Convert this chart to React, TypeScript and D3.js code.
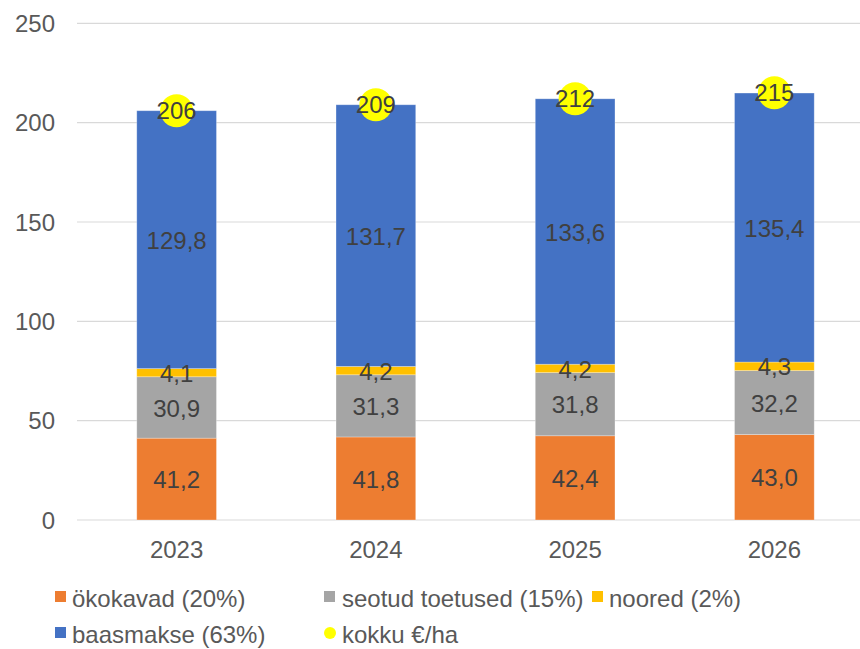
import React from "react";
import * as d3 from "d3";

const years = ["2023", "2024", "2025", "2026"];
const okokavad = [41.2, 41.8, 42.4, 43.0];
const seotud = [30.9, 31.3, 31.8, 32.2];
const noored = [4.1, 4.2, 4.2, 4.3];
const baasmakse = [129.8, 131.7, 133.6, 135.4];
const kokku = [206, 209, 212, 215];
const yTicks = [0, 50, 100, 150, 200, 250];

const seriesNames = ["ökokavad (20%)", "seotud toetused (15%)", "noored (2%)", "baasmakse (63%)"];
const seriesColors = ["#ED7D31", "#A5A5A5", "#FFC000", "#4472C4"];
const totalName = "kokku €/ha";

const W = 860;
const H = 649;
const FONT = "'Liberation Sans', Arial, sans-serif";
const FS = 24;

export default function App() {
  const x = d3.scaleBand<string>().domain(years).range([77, 874]).paddingInner(0.6).paddingOuter(0.3);
  const y = d3.scaleLinear().domain([0, 250]).range([520, 23.3]);
  const seriesVals = [okokavad, seotud, noored, baasmakse];
  const rows = years.map((yr, i) => ({ year: yr, s0: okokavad[i], s1: seotud[i], s2: noored[i], s3: baasmakse[i] }));
  const stack = d3.stack<any>().keys(["s0", "s1", "s2", "s3"]);
  const stacked = stack(rows);
  const fmt = (v: number) => v.toFixed(1).replace(".", ",");

  const legendItems = [
    { label: seriesNames[0], color: seriesColors[0], mx: 55, tx: 72, ty: 607, type: "rect" },
    { label: seriesNames[1], color: seriesColors[1], mx: 324, tx: 342, ty: 607, type: "rect" },
    { label: seriesNames[2], color: seriesColors[2], mx: 592, tx: 609, ty: 607, type: "rect" },
    { label: seriesNames[3], color: seriesColors[3], mx: 55, tx: 72, ty: 643, type: "rect" },
    { label: totalName, color: "#FFFF00", mx: 324, tx: 342, ty: 643, type: "circle" },
  ];

  return (
    <svg width={W} height={H} style={{ position: "absolute", left: 0, top: 0, background: "#fff" }} fontFamily={FONT}>
      {yTicks.map((t) => (
        <g key={t}>
          <line x1={77} x2={860} y1={y(t)} y2={y(t)} stroke="#d9d9d9" strokeWidth={1.2} />
          <text x={55} y={y(t)} dy="0.36em" textAnchor="end" fontSize={FS} fill="#595959">{t}</text>
        </g>
      ))}
      {stacked.map((layer, si) => (
        <g key={si}>
          {layer.map((d, i) => (
            <rect key={i} x={x(years[i])!} width={x.bandwidth()} y={y(d[1])} height={y(d[0]) - y(d[1])}
              fill={seriesColors[si]} stroke="#ffffff" strokeOpacity={0.35} strokeWidth={0.8} />
          ))}
        </g>
      ))}
      {stacked.map((layer, si) => (
        <g key={"l" + si}>
          {layer.map((d, i) => (
            <text key={i} x={x(years[i])! + x.bandwidth() / 2} y={(y(d[0]) + y(d[1])) / 2} dy="0.38em"
              textAnchor="middle" fontSize={FS} fill="#404040">{fmt(seriesVals[si][i])}</text>
          ))}
        </g>
      ))}
      {kokku.map((v, i) => (
        <g key={"k" + i}>
          <circle cx={x(years[i])! + x.bandwidth() / 2} cy={y(v)} r={16.5} fill="#FFFF00" />
          <text x={x(years[i])! + x.bandwidth() / 2} y={y(v)} dy="0.36em" textAnchor="middle" fontSize={FS} fill="#404040">{v}</text>
        </g>
      ))}
      {years.map((yr) => (
        <text key={yr} x={x(yr)! + x.bandwidth() / 2} y={558} textAnchor="middle" fontSize={FS} fill="#595959">{yr}</text>
      ))}
      {legendItems.map((it, i) => (
        <g key={"lg" + i}>
          {it.type === "rect" ? (
            <rect x={it.mx} y={it.ty - 16} width={11} height={11} fill={it.color} />
          ) : (
            <circle cx={it.mx + 6} cy={it.ty - 10} r={6} fill={it.color} />
          )}
          <text x={it.tx} y={it.ty} fontSize={FS} fill="#595959">{it.label}</text>
        </g>
      ))}
    </svg>
  );
}
